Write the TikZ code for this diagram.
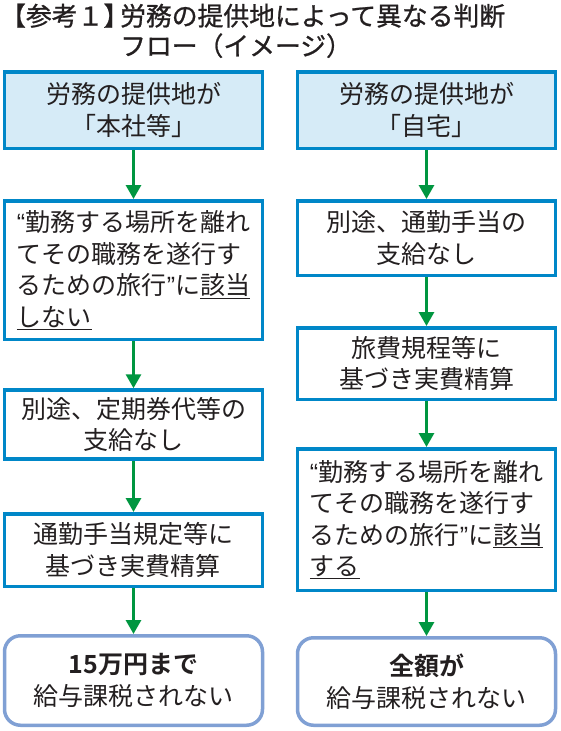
\documentclass[tikz,border=0pt]{standalone}
\usepackage{fontspec}
\setmainfont{Noto Sans CJK JP}[BoldFont={Noto Sans CJK JP Bold}]
\newfontfamily\titlefont{Noto Sans CJK JP}[FakeBold=0.9]
\newfontfamily\latq{Liberation Sans}
\usetikzlibrary{arrows.meta}
\definecolor{boxblue}{RGB}{0,135,200}
\definecolor{headfill}{RGB}{214,235,247}
\definecolor{flowgreen}{RGB}{0,150,64}
\definecolor{roundblue}{RGB}{128,160,212}
\definecolor{txt}{RGB}{35,31,32}
\newcommand{\oq}{{\latq “}}
\newcommand{\cq}{{\latq ”}}
\begin{document}
\begin{tikzpicture}[x=1pt,y=-1pt,
  every node/.style={text=txt, font=\fontsize{25}{31.5}\selectfont, inner sep=0pt},
  ttl/.style={anchor=base west, font=\titlefont\fontsize{25.8}{30}\selectfont},
  sbox/.style={draw=boxblue, line width=3.5pt, minimum width=258pt, align=center},
  hbox/.style={sbox, fill=headfill},
  rbox/.style={draw=roundblue, line width=3.5pt, rounded corners=16pt, minimum width=258pt, align=center},
  flow/.style={draw=flowgreen, line width=3pt, -{Triangle[width=15pt,length=14pt]}}]
\useasboundingbox (0,0) rectangle (560,731);
% title
\node[ttl] (t0) at (0,25.5) {【参考１】};
\node[ttl] (t1) at (120,25.5) {労務の提供地によって異なる判断};
\node[ttl] (t2) at (120,55.5) {フロー（イメージ）};
% left column
\node[hbox, minimum height=76.5pt] (l1) at (133.5,110) {労務の提供地が\\「本社等」};
\node[sbox, minimum height=138.5pt, align=left] (l2) at (133.5,270) {\oq 勤務する場所を離れ\\てその職務を遂行す\\るための旅行\cq に\underline{該当}\\\underline{しない}};
\node[sbox, minimum height=69pt] (l3) at (133.5,424.5) {別途、定期券代等の\\支給なし};
\node[sbox, minimum height=72.5pt] (l4) at (133.5,550) {通勤手当規定等に\\基づき実費精算};
\node[rbox, minimum height=89.5pt] (l5) at (133.5,680.5) {\textbf{15万円まで}\\給与課税されない};
% right column
\node[hbox, minimum height=76.5pt] (r1) at (426.5,110) {労務の提供地が\\「自宅」};
\node[sbox, minimum height=74.5pt] (r2) at (426.5,238) {別途、通勤手当の\\支給なし};
\node[sbox, minimum height=71.5pt] (r3) at (426.5,363.5) {旅費規程等に\\基づき実費精算};
\node[sbox, minimum height=141.5pt, align=left] (r4) at (426.5,519.5) {\oq 勤務する場所を離れ\\てその職務を遂行す\\るための旅行\cq に\underline{該当}\\\underline{する}};
\node[rbox, minimum height=87.5pt] (r5) at (426.5,681.5) {\textbf{全額が}\\給与課税されない};
% arrows
\draw[flow] (l1) -- (l2);
\draw[flow] (l2) -- (l3);
\draw[flow] (l3) -- (l4);
\draw[flow] (l4) -- (l5);
\draw[flow] (r1) -- (r2);
\draw[flow] (r2) -- (r3);
\draw[flow] (r3) -- (r4);
\draw[flow] (r4) -- (r5);
\end{tikzpicture}
\end{document}
